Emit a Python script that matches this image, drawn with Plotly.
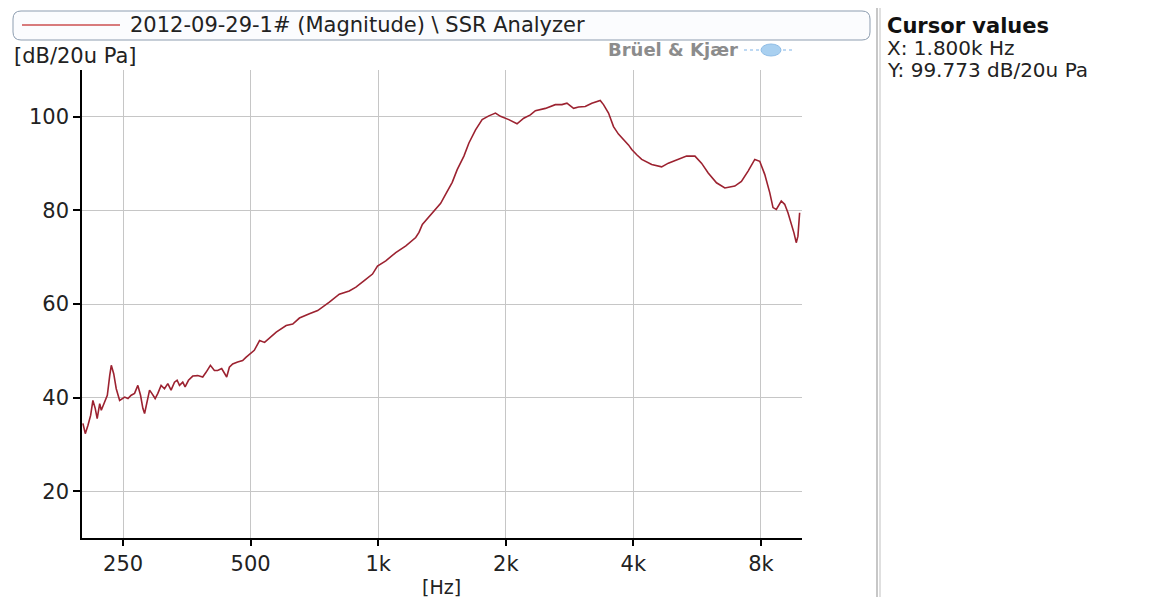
import math
import plotly.graph_objects as go

# ---------------- data ----------------
freq_hz = [201, 203.6, 206.6, 209.6, 212.2, 214.9, 217.2, 220.2, 222.1, 226.3,
           229.5, 232.5, 234.5, 237.6, 240.9, 245.4, 248.9, 252.2, 256.7, 261.3,
           266.1, 270.9, 274.9, 278.4, 281.0, 284.5, 288.7, 292.3, 297.6, 302.0,
           307.4, 313.1, 318.8, 324.5, 330.6, 335.3, 339.7, 345.8, 350.2, 356.7,
           365.1, 375.1, 385.4, 392.4, 401.8, 410.6, 418.0, 427.2, 433.5, 439.0,
           445.4, 453.5, 465.9, 478.7, 487.3, 500.7, 510.0, 524.9, 539.3, 574.6,
           606.4, 628.5, 651.8, 688.1, 719.7, 766.8, 809.4, 854.4, 886.0, 926.8,
           969.4, 996.0, 1042, 1100, 1162, 1226, 1248, 1271, 1330, 1404,
           1443, 1495, 1536, 1593, 1637, 1697, 1759, 1824, 1891, 1943,
           2033, 2126, 2205, 2286, 2349, 2480, 2618, 2713, 2788, 2891,
           2970, 3080, 3192, 3341, 3401, 3495, 3591, 3689, 3895, 3965,
           4074, 4186, 4419, 4664, 4837, 5106, 5341, 5590, 5793, 6007,
           6284, 6576, 6942, 7195, 7461, 7737, 7949, 8167, 8392, 8543,
           8698, 8935, 9102, 9266, 9433, 9572, 9692, 9782, 9872]

level_db = [34.5, 32.3, 34.1, 36.2, 39.4, 37.7, 35.5, 38.7, 37.3, 39.4,
            40.5, 44.7, 46.9, 45.1, 41.9, 39.4, 39.8, 40.1, 39.8, 40.5,
            40.9, 42.6, 40.5, 37.7, 36.6, 39.1, 41.6, 40.9, 39.8, 40.9,
            42.6, 41.9, 43.0, 41.6, 43.3, 43.7, 42.6, 43.3, 42.3, 43.7,
            44.6, 44.7, 44.4, 45.4, 46.9, 45.8, 45.8, 46.2, 45.1, 44.4,
            46.5, 47.2, 47.6, 47.9, 48.6, 49.4, 50.1, 52.2, 51.8, 54.0,
            55.4, 55.7, 57.0, 57.9, 58.6, 60.4, 62.1, 62.8, 63.6, 65.0,
            66.4, 68.1, 69.2, 71.0, 72.4, 74.2, 75.3, 77.0, 79.1, 81.5,
            83.5, 86.0, 88.7, 91.6, 94.4, 97.2, 99.4, 100.2, 100.8, 100.1,
            99.4, 98.5, 99.7, 100.4, 101.3, 101.8, 102.6, 102.6, 102.9, 101.8,
            102.1, 102.2, 102.9, 103.5, 102.6, 100.8, 97.9, 96.3, 94.0, 93.0,
            91.9, 90.9, 89.8, 89.3, 90.1, 90.9, 91.6, 91.6, 90.1, 88.0,
            85.9, 84.8, 85.2, 86.2, 88.4, 90.9, 90.5, 87.7, 83.8, 80.6,
            80.2, 82.0, 81.3, 79.5, 77.4, 75.2, 73.1, 74.5, 79.5]

x_tick_vals = [250, 500, 1000, 2000, 4000, 8000]
x_tick_text = ["250", "500", "1k", "2k", "4k", "8k"]
y_tick_vals = [20, 40, 60, 80, 100]
x_range_hz = [200, 10000]
y_range_db = [10, 110]

series_name = "2012-09-29-1# (Magnitude) \\ SSR Analyzer"
y_unit = "[dB/20u Pa]"
x_unit = "[Hz]"
brand = "Brüel & Kjær"
cursor_title = "Cursor values"
cursor_x = "X: 1.800k Hz"
cursor_y = "Y: 99.773 dB/20u Pa"

# ---------------- layout helpers ----------------
# the page body adds an 8 px offset; positions below are in screenshot pixels
OFF = 8
W_FIG, H_FIG = 1156 - OFF, 597 - OFF
L, R, T, B = 82, 802, 70, 538          # plot area in screenshot pixels
PW, PH = R - L, B - T


def px(x):
    return (x - L) / PW


def py(y):
    return (B - y) / PH


def rounded_rect(x0, y0, x1, y1, r):
    pts = [
        f"M{px(x0 + r)},{py(y0)}",
        f"L{px(x1 - r)},{py(y0)}",
        f"Q{px(x1)},{py(y0)} {px(x1)},{py(y0 + r)}",
        f"L{px(x1)},{py(y1 - r)}",
        f"Q{px(x1)},{py(y1)} {px(x1 - r)},{py(y1)}",
        f"L{px(x0 + r)},{py(y1)}",
        f"Q{px(x0)},{py(y1)} {px(x0)},{py(y1 - r)}",
        f"L{px(x0)},{py(y0 + r)}",
        f"Q{px(x0)},{py(y0)} {px(x0 + r)},{py(y0)}",
        "Z",
    ]
    return " ".join(pts)


FONT = "DejaVu Sans, Verdana, sans-serif"
LINE_COLOR = "#9c2230"
TXT = "#222222"

fig = go.Figure()
fig.add_trace(go.Scatter(
    x=freq_hz, y=level_db, mode="lines",
    line=dict(color=LINE_COLOR, width=1.6),
    name=series_name, showlegend=False, hoverinfo="x+y",
))

fig.update_xaxes(
    type="log",
    range=[math.log10(x_range_hz[0]), math.log10(x_range_hz[1])],
    tickvals=x_tick_vals, ticktext=x_tick_text,
    showgrid=True, gridcolor="#c6c6c6", gridwidth=1.2,
    showline=True, linecolor="#000000", linewidth=1.5,
    ticks="outside", ticklen=6, tickcolor="#000000", tickwidth=1.5,
    tickfont=dict(family=FONT, size=21, color=TXT),
    zeroline=False,
)
fig.update_yaxes(
    range=y_range_db, tickvals=y_tick_vals,
    showgrid=True, gridcolor="#c6c6c6", gridwidth=1.2,
    showline=True, linecolor="#000000", linewidth=1.5,
    ticks="outside", ticklen=7, tickcolor="#000000", tickwidth=1.5,
    tickfont=dict(family=FONT, size=21, color=TXT),
    zeroline=False,
)

shapes = [
    # legend box
    dict(type="path", xref="paper", yref="paper",
         path=rounded_rect(13, 11, 870, 40, 8),
         line=dict(color="#8d9db0", width=1), fillcolor="#fbfcfe", layer="above"),
    # legend sample line
    dict(type="line", xref="paper", yref="paper",
         x0=px(22), x1=px(120), y0=py(25), y1=py(25),
         line=dict(color="#cc5050", width=1.5)),
    # panel separator
    dict(type="line", xref="paper", yref="paper",
         x0=px(877), x1=px(877), y0=py(0), y1=py(597),
         line=dict(color="#b4b4b4", width=1.5)),
    dict(type="line", xref="paper", yref="paper",
         x0=px(880), x1=px(880), y0=py(0), y1=py(597),
         line=dict(color="#d6d6d6", width=1.5)),
    # brand logo
    dict(type="circle", xref="paper", yref="paper",
         x0=px(761), x1=px(781), y0=py(56), y1=py(44),
         line=dict(color="#8fbde6", width=1), fillcolor="#a9d0f0"),
    dict(type="line", xref="paper", yref="paper",
         x0=px(744), x1=px(759), y0=py(50), y1=py(50),
         line=dict(color="#a9cdef", width=1.5, dash="dot")),
    dict(type="line", xref="paper", yref="paper",
         x0=px(783), x1=px(792), y0=py(50), y1=py(50),
         line=dict(color="#a9cdef", width=1.5, dash="dot")),
]

annotations = [
    dict(text=series_name, x=px(128), y=py(25), xanchor="left", yanchor="middle",
         font=dict(family=FONT, size=21, color=TXT)),
    dict(text=y_unit, x=px(12), y=py(56), xanchor="left", yanchor="middle",
         font=dict(family=FONT, size=21, color=TXT)),
    dict(text=x_unit, x=px(441), y=py(574), xanchor="center", yanchor="top",
         font=dict(family=FONT, size=19, color=TXT)),
    dict(text=brand, x=px(740), y=py(50), xanchor="right", yanchor="middle",
         font=dict(family=FONT, size=18, color="#8c8c8c", weight="bold")),
    dict(text=cursor_title, x=px(885), y=py(26), xanchor="left", yanchor="middle",
         font=dict(family=FONT, size=21, color="#111111", weight="bold")),
    dict(text=cursor_x, x=px(885), y=py(48), xanchor="left", yanchor="middle",
         font=dict(family=FONT, size=20, color=TXT)),
    dict(text=cursor_y, x=px(885), y=py(70), xanchor="left", yanchor="middle",
         font=dict(family=FONT, size=20, color=TXT)),
]
for a in annotations:
    a.update(xref="paper", yref="paper", showarrow=False)

fig.update_layout(
    width=W_FIG, height=H_FIG,
    margin=dict(l=L - OFF, r=1156 - R, t=T - OFF, b=597 - B, pad=0),
    paper_bgcolor="#ffffff", plot_bgcolor="#ffffff",
    shapes=shapes, annotations=annotations,
    showlegend=False,
    font=dict(family=FONT),
)

fig.write_html("out.html")
